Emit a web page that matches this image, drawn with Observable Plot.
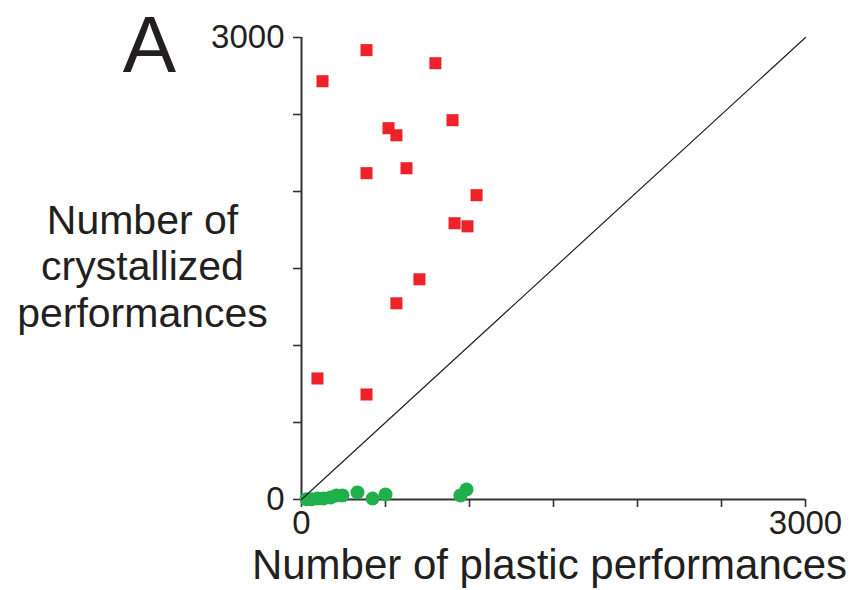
<!DOCTYPE html>
<html>
<head>
<meta charset="utf-8">
<script src="https://cdn.jsdelivr.net/npm/d3@7"></script>
<script src="https://cdn.jsdelivr.net/npm/@observablehq/plot@0.6"></script>
<style>
  html, body { margin: 0; padding: 0; background: #fff; }
  #chart { width: 858px; height: 590px; }
</style>
</head>
<body>
<div id="chart"></div>
<script>
// Crystallized (red squares): plastic count, crystallized count
const redPlastic = [125, 387, 797, 518, 565, 899, 387, 625, 1042, 911, 988, 702, 565, 95, 387];
const redCrystal = [2716, 2918, 2833, 2411, 2365, 2463, 2119, 2151, 1976, 1794, 1774, 1430, 1274, 786, 682];

// Green circles
const greenPlastic = [30, 60, 95, 131, 173, 208, 244, 333, 423, 500, 946, 982];
const greenCrystal = [2, 2, 6, 6, 13, 26, 26, 46, 6, 33, 26, 65];

const axisTicks = [0, 500, 1000, 1500, 2000, 2500, 3000];
const labeledTicks = [0, 3000];
const diagonal = [[0, 0], [3000, 3000]];

const panelLetter = "A";
const xLabel = "Number of plastic performances";
const yLabel = "Number of\ncrystallized\nperformances";

const red = redPlastic.map((x, i) => ({x, y: redCrystal[i]}));
const green = greenPlastic.map((x, i) => ({x, y: greenCrystal[i]}));
const fmt = d => labeledTicks.includes(d) ? String(d) : "";

const ink = "#231f20";
const chart = Plot.plot({
  width: 858,
  height: 590,
  marginLeft: 301,
  marginRight: 53,
  marginTop: 37,
  marginBottom: 91,
  style: {fontFamily: "'Liberation Sans', Arial, Helvetica, sans-serif", fontSize: "33px", color: ink, background: "#fff"},
  x: {domain: [0, 3000]},
  y: {domain: [0, 3000]},
  marks: [
    Plot.axisX(axisTicks, {tickSize: 8, tickPadding: 3, tickFormat: fmt, fontSize: 33, stroke: "#333", strokeWidth: 1.6, label: null}),
    Plot.axisY(axisTicks, {tickSize: 8, tickPadding: 9, tickFormat: fmt, fontSize: 33, stroke: "#333", strokeWidth: 1.6, label: null}),
    Plot.ruleX([0], {stroke: "#333", strokeWidth: 2}),
    Plot.ruleY([0], {stroke: "#333", strokeWidth: 2}),
    Plot.dot(green, {x: "x", y: "y", r: 7, fill: "#1fb04b", stroke: "none"}),
    Plot.line(diagonal, {x: d => d[0], y: d => d[1], stroke: ink, strokeWidth: 1.2}),
    Plot.dot(red, {x: "x", y: "y", symbol: "square", r: 6.8, fill: "#ee2229", stroke: "none"}),
    Plot.text([xLabel], {frameAnchor: "bottom", dx: -4, dy: 79, fontSize: 42, fill: ink, lineAnchor: "bottom"}),
    Plot.text([yLabel], {frameAnchor: "left", dx: -159, dy: -3, fontSize: 41, lineHeight: 1.13, fill: ink, textAnchor: "middle", lineAnchor: "middle"}),
    Plot.text([panelLetter], {frameAnchor: "top-left", dx: -152, dy: 9, fontSize: 80, fill: ink, textAnchor: "middle", lineAnchor: "middle"})
  ]
});
document.getElementById("chart").appendChild(chart);
</script>
</body>
</html>
